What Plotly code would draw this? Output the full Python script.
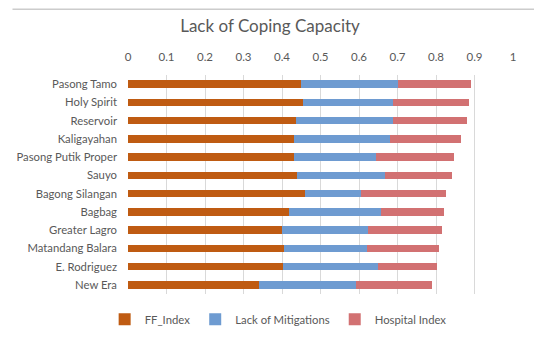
import plotly.graph_objects as go

# Barangays, top to bottom
barangays = ["Pasong Tamo", "Holy Spirit", "Reservoir", "Kaligayahan",
             "Pasong Putik Proper", "Sauyo", "Bagong Silangan", "Bagbag",
             "Greater Lagro", "Matandang Balara", "E. Rodriguez", "New Era"]

# Component scores (stacked)
ff_index = [0.449, 0.455, 0.437, 0.432, 0.432, 0.440, 0.460, 0.417, 0.401, 0.404, 0.403, 0.340]
lack_of_mitigations = [0.251, 0.232, 0.251, 0.249, 0.211, 0.228, 0.146, 0.239, 0.222, 0.217, 0.247, 0.251]
hospital_index = [0.192, 0.199, 0.193, 0.183, 0.205, 0.174, 0.219, 0.166, 0.192, 0.187, 0.153, 0.199]

x_ticks = [0, 0.1, 0.2, 0.3, 0.4, 0.5, 0.6, 0.7, 0.8, 0.9, 1]

series = [
    ("FF_Index", ff_index, "#BF5B12"),
    ("Lack of Mitigations", lack_of_mitigations, "#6E9BD1"),
    ("Hospital Index", hospital_index, "#D27172"),
]

fig = go.Figure()
for name, vals, color in series:
    fig.add_trace(go.Bar(
        y=barangays, x=vals, name=name, orientation="h",
        marker=dict(color=color, line=dict(width=0)),
    ))

font_family = "Lato, 'Open Sans', sans-serif"
grey = "#595959"
fig.update_layout(
    barmode="stack",
    bargap=0.6,
    width=534, height=346,
    margin=dict(l=128, r=21, t=75, b=46),
    paper_bgcolor="white", plot_bgcolor="white",
    font=dict(family=font_family, color=grey, size=11.3),
    title=dict(text="Lack of Coping Capacity", x=270 / 534, xanchor="center",
               y=1 - 26 / 346, yanchor="middle",
               font=dict(size=17, color=grey, family=font_family)),
    xaxis=dict(side="top", range=[0, 1], tickvals=x_ticks,
               ticktext=[f"{v:g}" for v in x_ticks],
               showgrid=True, gridcolor="#D9D9D9", gridwidth=1,
               zeroline=False, showline=False, ticks="",
               ticklabelstandoff=11,
               tickfont=dict(size=11.5, color=grey)),
    yaxis=dict(autorange="reversed", showgrid=False, showline=False,
               ticks="", ticklabelstandoff=10,
               tickfont=dict(size=11.3, color=grey)),
    legend=dict(orientation="h", traceorder="normal",
                x=0.39, xanchor="center",
                y=-26 / 226, yanchor="middle",
                font=dict(size=11.3, color=grey),
                itemwidth=30, tracegroupgap=0),
)

# Thin frame line across the top of the chart area
fig.add_shape(type="line", xref="paper", yref="paper",
              x0=-0.3, x1=1.06, y0=1.3, y1=1.3,
              line=dict(color="#CCCCCC", width=1.5), layer="above")

fig.write_html("out.html")
